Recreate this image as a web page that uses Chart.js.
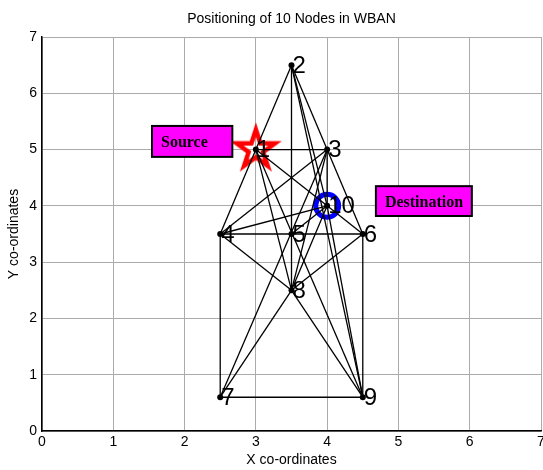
<!DOCTYPE html>
<html><head><meta charset="utf-8">
<script src="https://cdn.jsdelivr.net/npm/chart.js@4/dist/chart.umd.min.js"></script>
<style>html,body{margin:0;padding:0;background:#fff}#wrap{width:543px;height:470px}</style>
</head><body><div id="wrap"><canvas id="c" width="543" height="470"></canvas></div>
<script>
// ---- data ----
const nodeIds = ['1','2','3','4','5','6','7','8','9','10'];
const nodeX = [3, 3.5, 4, 2.5, 3.5, 4.5, 2.5, 3.5, 4.5, 4];
const nodeY = [5, 6.5, 5, 3.5, 3.5, 3.5, 0.6, 2.5, 0.6, 4];
// links between nodes (1-based node ids)
const edgeFrom = [1, 1, 1, 1, 10, 1, 1, 2, 5, 2, 3, 2, 2, 3, 3, 3, 3, 4, 5, 4, 4, 4, 5, 6, 6, 7, 7, 8, 8, 9];
const edgeTo   = [2, 3, 4, 10, 6, 8, 9, 5, 8, 3, 6, 10, 9, 10, 4, 8, 7, 5, 6, 10, 8, 7, 10, 8, 9, 9, 8, 10, 9, 10];
const sourceNode = 1;
const destNode = 10;
const xTicks = [0, 1, 2, 3, 4, 5, 6, 7];
const yTicks = [0, 1, 2, 3, 4, 5, 6, 7];
const titleText = 'Positioning of 10 Nodes in WBAN';
const xLabel = 'X co-ordinates';
const yLabel = 'Y co-ordinates';
const sourceText = 'Source';
const destText = 'Destination';

// ---- helpers ----
function makeStar() {
  const c = document.createElement('canvas');
  c.width = 58; c.height = 58;
  const g = c.getContext('2d');
  const R = 20, r = R * 0.382, cx = 29, cy = 29;
  g.beginPath();
  for (let k = 0; k < 10; k++) {
    const a = -Math.PI / 2 + k * Math.PI / 5;
    const rad = k % 2 === 0 ? R : r;
    g.lineTo(cx + rad * Math.cos(a), cy + rad * Math.sin(a));
  }
  g.closePath();
  g.lineWidth = 4.5; g.strokeStyle = '#ff0000'; g.lineJoin = 'miter';
  g.stroke();
  return c;
}
const pt = i => ({x: nodeX[i - 1], y: nodeY[i - 1]});

const datasets = [];
// nodes (top)
datasets.push({
  data: nodeX.map((v, i) => ({x: v, y: nodeY[i]})),
  pointRadius: 3, pointBackgroundColor: '#000', pointBorderWidth: 0,
  showLine: false, order: 0
});
// edges
edgeFrom.forEach((a, i) => {
  datasets.push({
    data: [pt(a), pt(edgeTo[i])],
    showLine: true, borderColor: '#000', borderWidth: 1.3,
    pointRadius: 0, order: 1
  });
});
// destination circle
datasets.push({
  data: [pt(destNode)], pointStyle: 'circle', pointRadius: 11.5,
  pointBorderColor: '#0000ff', pointBorderWidth: 5, pointBackgroundColor: 'rgba(0,0,0,0)',
  showLine: false, order: 2, clip: false
});
// source star
datasets.push({
  data: [pt(sourceNode)], pointStyle: makeStar(), pointRadius: 20,
  showLine: false, order: 3, clip: false
});

const boxes = [
  {text: sourceText, x0: 1.543, x1: 2.67, y0: 5.42, y1: 4.87},
  {text: destText, x0: 4.684, x1: 6.03, y0: 4.35, y1: 3.82}
];

const overlay = {
  id: 'overlay',
  afterDatasetsDraw(chart) {
    const {ctx, scales: {x, y}} = chart;
    ctx.save();
    ctx.fillStyle = '#000';
    ctx.font = '24px "Liberation Sans", Arial, sans-serif';
    ctx.textAlign = 'left'; ctx.textBaseline = 'middle';
    nodeIds.forEach((t, i) => {
      ctx.fillText(t, x.getPixelForValue(nodeX[i]) + 1, y.getPixelForValue(nodeY[i]) + 1);
    });
    boxes.forEach(b => {
      const l = x.getPixelForValue(b.x0), r = x.getPixelForValue(b.x1);
      const t = y.getPixelForValue(b.y0), btm = y.getPixelForValue(b.y1);
      ctx.fillStyle = '#ff00ff';
      ctx.fillRect(l, t, r - l, btm - t);
      ctx.lineWidth = 2; ctx.strokeStyle = '#000';
      ctx.strokeRect(l, t, r - l, btm - t);
      ctx.fillStyle = '#000';
      ctx.font = 'bold 16px "Liberation Serif", "Times New Roman", serif';
      ctx.textAlign = 'left'; ctx.textBaseline = 'alphabetic';
      ctx.fillText(b.text, l + 9, (t + btm) / 2 + 6);
    });
    ctx.restore();
  }
};

const tickFont = {family: '"Liberation Sans", Arial, sans-serif', size: 14};
new Chart(document.getElementById('c'), {
  type: 'scatter',
  data: {datasets},
  plugins: [overlay],
  options: {
    responsive: false, devicePixelRatio: 1, animation: false, events: [],
    layout: {autoPadding: false, padding: {top: 0, right: 2, left: 0, bottom: 0}},
    plugins: {
      legend: {display: false}, tooltip: {enabled: false},
      title: {display: true, text: titleText, color: '#000', fullSize: false,
        font: {family: '"Liberation Sans", Arial, sans-serif', size: 14, weight: 'normal'},
        padding: {top: 10.6, bottom: 9.6}}
    },
    scales: {
      x: {
        type: 'linear', min: 0, max: 7,
        afterBuildTicks: s => { s.ticks = xTicks.map(v => ({value: v})); },
        afterFit: s => { s.height = 39; s.paddingLeft = 0; s.paddingRight = 0; },
        ticks: {color: '#000', font: tickFont, padding: 3, maxRotation: 0, autoSkip: false},
        grid: {color: '#ababab', lineWidth: 1, drawTicks: false},
        border: {color: '#000', width: 1.5},
        title: {display: true, text: xLabel, color: '#000', font: tickFont, padding: {top: 0, bottom: 1}}
      },
      y: {
        type: 'linear', min: 0, max: 7,
        afterBuildTicks: s => { s.ticks = yTicks.map(v => ({value: v})); },
        afterFit: s => { s.width = 42; s.paddingTop = 0; s.paddingBottom = 0; },
        ticks: {color: '#000', font: tickFont, padding: 5, autoSkip: false},
        grid: {color: '#ababab', lineWidth: 1, drawTicks: false},
        border: {color: '#000', width: 1.5},
        title: {display: true, text: yLabel, color: '#000', font: tickFont, padding: {top: 6, bottom: 0}}
      }
    }
  }
});
</script></body></html>
